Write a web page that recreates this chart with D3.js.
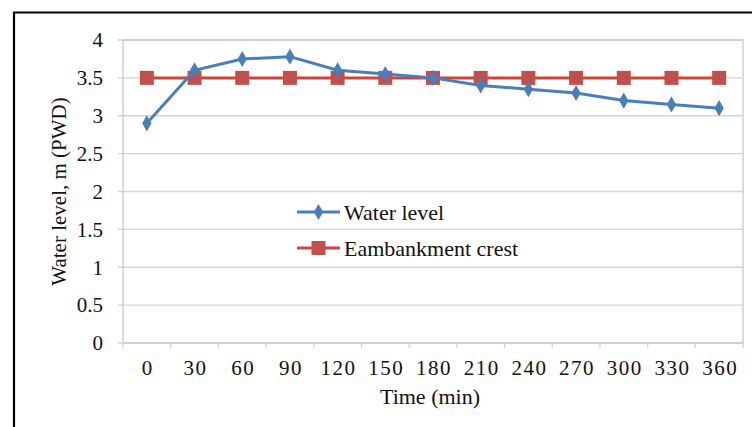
<!DOCTYPE html>
<html>
<head>
<meta charset="utf-8">
<script src="https://cdn.jsdelivr.net/npm/d3@7"></script>
<style>
  body { margin: 0; background: #fff; }
  svg text { font-family: "Liberation Serif", "Times New Roman", serif; fill: #111; }
</style>
</head>
<body>
<div id="chart"></div>
<script>
// time in minutes (category axis)
const times = [0, 30, 60, 90, 120, 150, 180, 210, 240, 270, 300, 330, 360];
// water level, m (PWD)
const waterLevel = [2.9, 3.6, 3.75, 3.78, 3.6, 3.55, 3.5, 3.4, 3.35, 3.3, 3.2, 3.15, 3.1];
// embankment crest, m (PWD)
const crest = [3.5, 3.5, 3.5, 3.5, 3.5, 3.5, 3.5, 3.5, 3.5, 3.5, 3.5, 3.5, 3.5];
const yTicks = [0, 0.5, 1, 1.5, 2, 2.5, 3, 3.5, 4];
const seriesNames = ["Water level", "Eambankment crest"];

const W = 752, H = 427;
const margin = { top: 40, right: 9, bottom: 84, left: 123 },
  width = W - margin.left - margin.right,
  height = H - margin.top - margin.bottom;

const blue = "#4a7ebb", red = "#d0433a", redMark = "#c0504d";

const svg = d3.select("#chart").append("svg")
  .attr("width", W).attr("height", H);

// outer frame (cropped picture, only top and left edges visible)
svg.append("path")
  .attr("d", `M14,${H} V12.5 H${W}`)
  .attr("fill", "none").attr("stroke", "#000").attr("stroke-width", 2.2);

const g = svg.append("g").attr("transform", `translate(${margin.left},${margin.top})`);

const x = d3.scaleBand().domain(times).range([0, width]);
const y = d3.scaleLinear().domain([0, 4]).range([height, 0]);

// gridlines
g.selectAll(".grid").data(yTicks).join("line")
  .attr("x1", -5).attr("x2", width)
  .attr("y1", d => y(d)).attr("y2", d => y(d))
  .attr("stroke", "#d4d4d4").attr("stroke-width", 1.3);

// plot border
g.append("rect").attr("width", width).attr("height", height)
  .attr("fill", "none").attr("stroke", "#c8c8c8").attr("stroke-width", 1.3);

// y labels
g.selectAll(".ylab").data(yTicks).join("text")
  .attr("x", -20).attr("y", d => y(d)).attr("dy", "0.35em")
  .attr("text-anchor", "end").attr("font-size", 21)
  .text(d => d);

// x axis tick marks at category boundaries
const bounds = times.map(t => x(t)).concat([width]);
g.selectAll(".xt").data(bounds).join("line")
  .attr("x1", d => d).attr("x2", d => d)
  .attr("y1", height).attr("y2", height + 5)
  .attr("stroke", "#d4d4d4").attr("stroke-width", 1.3);

g.selectAll(".xlab").data(times).join("text")
  .attr("x", d => x(d) + x.bandwidth() / 2 + 1).attr("y", height + 32)
  .attr("text-anchor", "middle").attr("font-size", 21)
  .attr("letter-spacing", "1.5px")
  .text(d => d);

// axis titles
g.append("text").attr("x", width / 2 - 3).attr("y", height + 61)
  .attr("text-anchor", "middle").attr("font-size", 22).text("Time (min)");
g.append("text")
  .attr("transform", `translate(${-57},${height / 2}) rotate(-90)`)
  .attr("text-anchor", "middle").attr("font-size", 21).text("Water level, m (PWD)");

const cx = d => x(d) + x.bandwidth() / 2;
const line = d3.line().x((d, i) => cx(times[i])).y(d => y(d));

const diamond = d3.symbol().type(d3.symbolDiamond).size(75);

// crest series
g.append("path").datum(crest).attr("d", line)
  .attr("fill", "none").attr("stroke", red).attr("stroke-width", 3);
g.selectAll(".sq").data(crest).join("rect")
  .attr("x", (d, i) => cx(times[i]) - 7).attr("y", d => y(d) - 7)
  .attr("width", 14).attr("height", 14).attr("fill", redMark);

// water level series
g.append("path").datum(waterLevel).attr("d", line)
  .attr("fill", "none").attr("stroke", blue).attr("stroke-width", 3);
g.selectAll(".dm").data(waterLevel).join("path")
  .attr("d", diamond)
  .attr("transform", (d, i) => `translate(${cx(times[i])},${y(d)})`)
  .attr("fill", blue);

// legend
const leg = svg.append("g").attr("transform", "translate(297,212)");
const items = leg.selectAll("g").data(seriesNames).join("g")
  .attr("transform", (d, i) => `translate(0,${i * 36})`);
items.append("line").attr("x1", 0).attr("x2", 43)
  .attr("stroke", (d, i) => i ? red : blue).attr("stroke-width", 3);
items.each(function (d, i) {
  const s = d3.select(this);
  if (i) {
    s.append("rect").attr("x", 14.5).attr("y", -7).attr("width", 14).attr("height", 14).attr("fill", redMark);
  } else {
    s.append("path").attr("d", diamond).attr("transform", "translate(21.5,0)").attr("fill", blue);
  }
});
items.append("text").attr("x", 47).attr("dy", "0.35em")
  .attr("font-size", 22).text(d => d);
</script>
</body>
</html>
